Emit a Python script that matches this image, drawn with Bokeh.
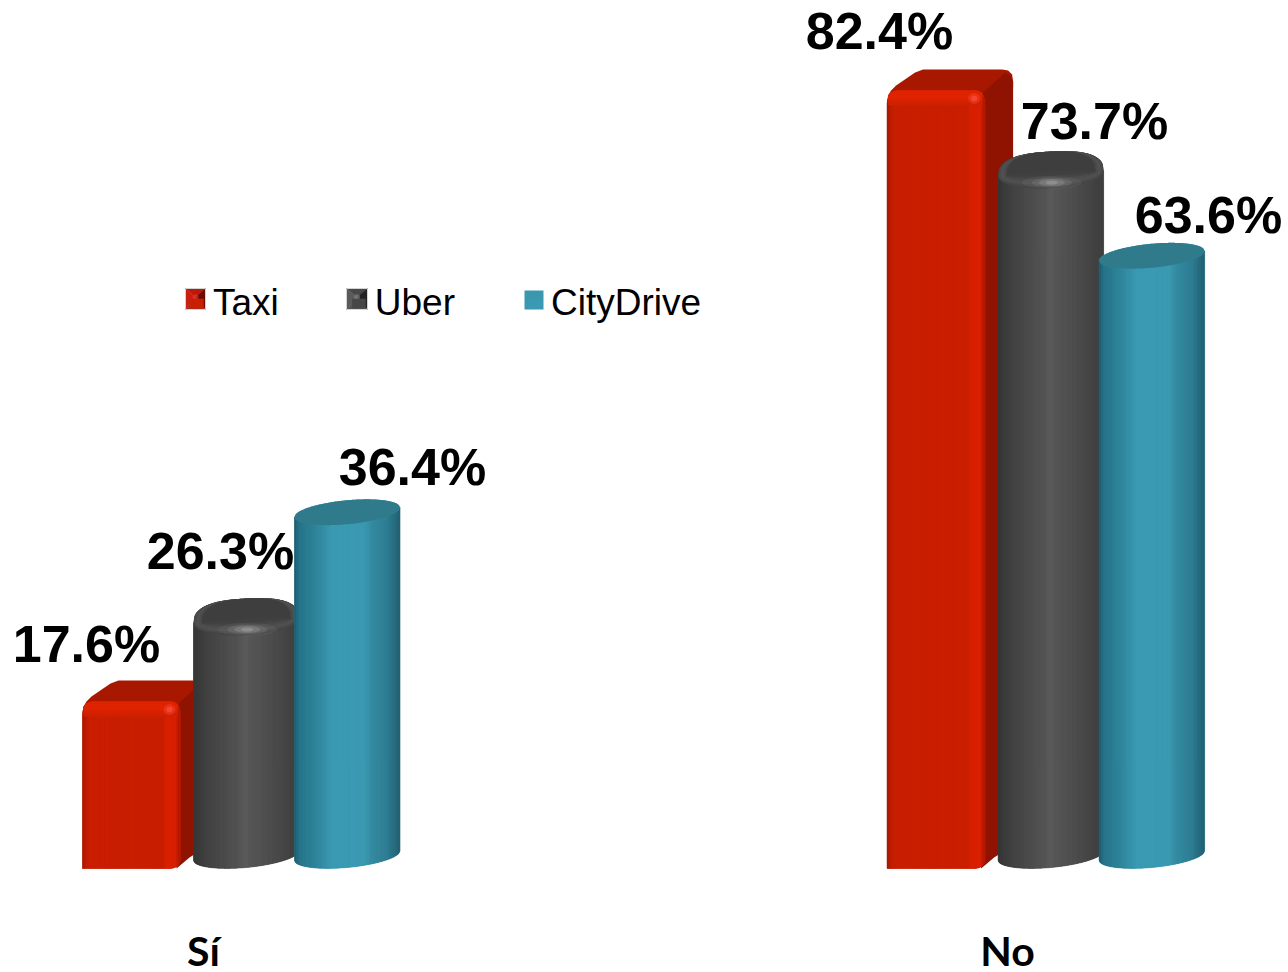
import numpy as np
from bokeh.embed import file_html
from bokeh.resources import INLINE
from bokeh.plotting import figure
from bokeh.models import Range1d, FixedTicker, Legend, LegendItem, ColumnDataSource
from bokeh.core.properties import value

categories = ["Sí", "No"]
taxi = [17.6, 82.4]
uber = [26.3, 73.7]
citydrive = [36.4, 63.6]
series_names = ["Taxi", "Uber", "CityDrive"]

# layout constants (screen-pixel scale of the picture)
SCALE = 9.43
BASE_PY = 855
FRAME_BOTTOM_PY = 880
centers = [203, 1007]
bar_centers = [203, 1007.6]
RED_DX, GREY_DX, BLUE_DX = -121, -10, 91
CYL_W = 105.5
BOX_W, BOX_DEPTH = 98, 28

p = figure(width=1288, height=972, frame_width=1288, frame_height=880,
           output_backend="svg", toolbar_location=None,
           x_range=Range1d(0, 1288),
           y_range=Range1d((BASE_PY - FRAME_BOTTOM_PY) / SCALE, BASE_PY / SCALE),
           min_border_left=0, min_border_right=0, min_border_top=0, min_border_bottom=0,
           outline_line_color=None, background_fill_color="white", border_fill_color="white")
p.grid.visible = False
p.yaxis.visible = False
p.xaxis.ticker = FixedTicker(ticks=centers)
p.xaxis.major_label_overrides = dict(zip(centers, categories))
p.xaxis.major_label_text_font = "Lato"
p.xaxis.major_label_text_font_style = "bold"
p.xaxis.major_label_text_font_size = "41px"
p.xaxis.major_label_text_color = "black"
p.xaxis.major_label_standoff = 45
p.xaxis.major_tick_out = 0
p.xaxis.major_tick_in = 0
p.xaxis.axis_line_color = None
p.xaxis.major_tick_line_color = None
p.xaxis.minor_tick_line_color = None


def Y(v, off=0.0):
    return v - np.asarray(off, dtype=float) / SCALE


def PY(py):
    return (BASE_PY - np.asarray(py, dtype=float)) / SCALE


def shade(stops, u):
    pos = [s[0] for s in stops]
    rgb = np.array([[int(s[1][i:i + 2], 16) for i in (1, 3, 5)] for s in stops], dtype=float)
    return "#%02x%02x%02x" % tuple(int(round(np.interp(u, pos, rgb[:, i]))) for i in range(3))


def ellipse_edges(cx, a, b, k, xs):
    t = np.clip((xs - cx) / a, -1, 1)
    root = b * np.sqrt(1 - t * t)
    skew = -k * (xs - cx)
    return skew - root, skew + root   # upper, lower (pixel offsets)


BLUE_STOPS = [(0, "#1d5a6c"), (.05, "#27748a"), (.2, "#2e8499"), (.36, "#3b9ab3"), (.66, "#3b9ab3"),
              (.74, "#348aa0"), (.88, "#2e7d92"), (1, "#215f71")]
GREY_STOPS = [(0, "#353535"), (.15, "#434343"), (.3, "#4c4c4c"), (.45, "#555555"), (.5, "#5c5c5c"),
              (.55, "#565656"), (.75, "#4c4c4c"), (1, "#3e3e3e")]
N = 48
A_HALF = CYL_W / 2
K, B = 0.09, 12.0
legend_rend = {}


def dome(xx, cx, half, height, mid=13.0, k=0.05, power=2.6):
    u = np.clip(np.abs(xx - cx) / half, 0, 1)
    return mid - k * (xx - cx) - height * (1 - u ** power) ** (1 / power)


def cylinder(left, v, stops, cap, name, rounded):
    cx = left + A_HALF
    edges = np.linspace(left, left + CYL_W, N + 1)
    xx = np.linspace(left, left + CYL_W, 161)
    up, lo = ellipse_edges(cx, A_HALF, B, K, xx)
    if rounded:
        up = dome(xx, cx, A_HALF, 22)
    sx = np.r_[xx, xx[::-1]]
    sy = np.r_[Y(v, up), Y(0, lo)[::-1]]
    r = p.patch(sx, sy, fill_color="#464646" if rounded else shade(stops, .5), line_color=None)
    legend_rend.setdefault(name, r)
    xs, ys, cols = [], [], []
    for i in range(N):
        seg = np.linspace(edges[i], edges[i + 1], 4)
        _, l0 = ellipse_edges(cx, A_HALF, B, K, seg)
        top = l0 if not rounded else np.full(4, 13.0) - .05 * (seg - cx)
        xs.append(np.r_[seg, seg[::-1]].tolist())
        ys.append(np.r_[Y(v, top), Y(0, l0)[::-1]].tolist())
        cols.append(shade(stops, (i + .5) / N))
    p.patches(xs, ys, fill_color=cols, line_color=cols, line_width=.6)
    if rounded:
        # stacked lenses from the lit shoulder in to the dark cap
        for frac, lower, col in [(1.0, 28, "#454545"), (.985, 26, "#4a4a4a"), (.95, 24, "#505050"),
                                 (.9, 21, "#4c4c4c"), (.86, 18, "#454545"), (.84, 15, "#404040"),
                                 (.82, 11, "#3e3e3e")]:
            half = A_HALF * frac
            ex = np.linspace(cx - half, cx + half, 121)
            uu = np.abs(ex - cx) / half
            low = 13 - .05 * (ex - cx) + (lower - 13) * np.sqrt(np.clip(1 - uu ** 2, 0, 1))
            p.patch(np.r_[ex, ex[::-1]], np.r_[Y(v, dome(ex, cx, half, 22 * (frac ** .08))), Y(v, low)[::-1]],
                    fill_color=col, line_color=None)
        for w, h, a in [(60, 13, .08), (40, 10, .14), (26, 7, .22), (12, 4, .3)]:
            p.ellipse([cx + 1], [Y(v, 22)], width=w, height=h / SCALE, fill_color="#c0c0c0",
                      fill_alpha=a, line_color=None)
    else:
        ex = np.linspace(left, left + CYL_W, 81)
        eu, el = ellipse_edges(cx, A_HALF, B, K, ex)
        p.patch(np.r_[ex, ex[::-1]], np.r_[Y(v, eu), Y(v, el)[::-1]], fill_color=cap, line_color=None)


RED_STOPS = [(0, "#a21700"), (.035, "#bc1c00"), (.08, "#c91f00"), (.82, "#c91f00"), (.86, "#d92000"),
             (.95, "#d92000"), (1, "#a81800")]


def box(x0, v, name):
    front, back = 12, -9
    bottom = 13
    x1, x2 = x0 + BOX_W, x0 + BOX_W + BOX_DEPTH
    tx = [x0, x0 + 1, x0 + 4, x0 + 9, x0 + 28, x0 + 36, x2 - 11, x2 - 5, x2 - 1, x2, x2, x1, x0]
    ty = [front + 12, front + 5, front, front - 5, back + 3, back, back, back + 1, back + 5, back + 12,
          back + 18, front + 12, front + 12]
    p.patch(tx, Y(v, ty), fill_color="#a81800", line_color=None)
    sx = [x1 - 2, x2 - 8, x2 - 3, x2, x2, x1 + 9, x1 - 4]
    py = list(Y(v, [front + 2, back + 3, back + 6, back + 12])) + [Y(0, -10), Y(0, 2), Y(0, 13)]
    p.patch(sx, py, fill_color="#8f1300", line_color=None)
    edges = np.linspace(x0, x1, N + 1)
    xx = np.linspace(x0, x1, 81)
    R = 10

    def top_drop(a):
        d = np.minimum(a - x0, x1 - a)
        return np.where(d < R, R * (1 - np.sqrt(np.clip(1 - ((R - d) / R) ** 2, 0, 1))), 0)

    def bot_rise(a):
        d = x1 - a
        return np.where(d < 11, 11 * (1 - np.sqrt(np.clip(1 - ((11 - d) / 11) ** 2, 0, 1))) * .7, 0)
    r = p.patch(np.r_[xx, xx[::-1]], np.r_[Y(v, front + top_drop(xx)), Y(0, bottom - bot_rise(xx))[::-1]],
                fill_color="#c91f00", line_color=None)
    legend_rend.setdefault(name, r)
    xs, ys, cols = [], [], []
    for i in range(N):
        seg = np.linspace(edges[i], edges[i + 1], 3)
        xs.append(np.r_[seg, seg[::-1]].tolist())
        ys.append(np.r_[Y(v, front + top_drop(seg) + 3), Y(0, bottom - bot_rise(seg))[::-1]].tolist())
        cols.append(shade(RED_STOPS, (i + .5) / N))
    p.patches(xs, ys, fill_color=cols, line_color=cols, line_width=.6)
    for h, col in [(15.0, "#cf2000"), (12.0, "#d62100"), (9.0, "#df2200")]:
        bx = np.linspace(x0 + 1, x1 - 3, 81)
        p.patch(np.r_[bx, bx[::-1]], np.r_[Y(v, front + top_drop(bx)), Y(v, np.full(81, front + h))],
                fill_color=col, line_color=None)
    gx = x1 - 11
    for w, h, a in [(12, 11, .3), (6, 6, .5)]:
        p.ellipse([gx], [Y(v, front + 8)], width=w, height=h / SCALE, fill_color="#ff5a4a",
                  fill_alpha=a, line_color=None)


for ci, c in enumerate(bar_centers):
    box(c + RED_DX, taxi[ci], "Taxi")
for ci, c in enumerate(bar_centers):
    cylinder(c + GREY_DX, uber[ci], GREY_STOPS, "#3d3d3d", "Uber", True)
for ci, c in enumerate(bar_centers):
    cylinder(c + BLUE_DX, citydrive[ci], BLUE_STOPS, "#2f7b8c", "CityDrive", False)

label_vals = taxi + uber + citydrive
label_x = [c + d for c, d in zip([203, 1007, 203, 1007, 203, 1007], [-117, -128, 17, 87, 209, 201])]
label_off = [-46, -47, -56, -40, -45, -41]
src = ColumnDataSource(dict(x=label_x, y=[Y(v, o) for v, o in zip(label_vals, label_off)],
                            t=["%.1f%%" % v for v in label_vals]))
p.text("x", "y", text="t", source=src, text_font=value("Liberation Sans"), text_font_style="bold",
       text_font_size="52px", text_color="black", text_align="center", text_baseline="alphabetic")

legend = Legend(items=[LegendItem(label=n, renderers=[legend_rend[n]]) for n in series_names],
                orientation="horizontal", location=(188, 880 - 324), spacing=71, padding=0, margin=0,
                glyph_width=17, glyph_height=12, label_standoff=8,
                label_text_font="Liberation Sans", label_text_font_size="37px", label_text_color="black",
                background_fill_alpha=0, border_line_color=None)
p.add_layout(legend, "center")


def swatch(x0, x1, y0, y1, faces, centre):
    mx, my = (x0 + x1) / 2, y0 + (y1 - y0) * .42
    polys = [([x0, x1, mx], [y0, y0, my]), ([x0, mx, x0], [y0, my, y1]),
             ([x1, x1, mx], [y0, y1, my]), ([x0, x1, mx], [y1, y1, my])]
    p.patches([q[0] for q in polys], [PY(q[1]).tolist() for q in polys], fill_color=faces,
              line_color=faces, line_width=.5, level="overlay")
    p.ellipse([mx], [PY(my)], width=6, height=6 / SCALE, fill_color=centre, fill_alpha=.55,
              line_color=None, level="overlay")
    p.quad(left=[x0], right=[x1], bottom=[PY(y1)], top=[PY(y0)], fill_color=None,
           line_color="#d4d4d4", line_width=1, level="overlay")


swatch(185, 205, 288, 309, ["#c01808", "#c82010", "#6a0c04", "#a82c22"], "#f23a28")
swatch(346, 367, 288, 309, ["#484848", "#5a5a5a", "#222222", "#555555"], "#8a8a8a")
p.quad(left=[524], right=[543], bottom=[PY(309)], top=[PY(290)], fill_color="#3b97ae", line_color=None,
       level="overlay")

out = file_html(p, INLINE)
open("out.html", "w").write(out)
